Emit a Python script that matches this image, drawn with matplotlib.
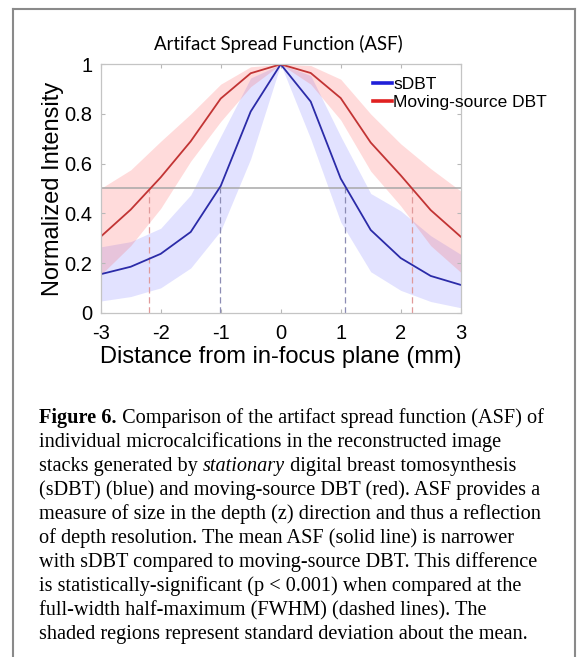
import numpy as np
import matplotlib
matplotlib.use("Agg")
import matplotlib.pyplot as plt
from matplotlib.lines import Line2D

# data
distance = [-3, -2.5, -2, -1.5, -1, -0.5, 0, 0.5, 1, 1.5, 2, 2.5, 3]

sdbt_mean = [0.155, 0.185, 0.237, 0.325, 0.51, 0.81, 1.0, 0.85, 0.54, 0.333, 0.22, 0.148, 0.112]
sdbt_upper = [0.265, 0.286, 0.34, 0.474, 0.71, 0.945, 1.0, 0.955, 0.71, 0.48, 0.41, 0.31, 0.235]
sdbt_lower = [0.047, 0.065, 0.10, 0.18, 0.33, 0.62, 1.0, 0.70, 0.365, 0.165, 0.09, 0.045, 0.02]

msdbt_mean = [0.306, 0.415, 0.545, 0.69, 0.862, 0.964, 1.0, 0.965, 0.864, 0.685, 0.553, 0.413, 0.306]
msdbt_upper = [0.50, 0.575, 0.69, 0.80, 0.92, 0.99, 1.0, 0.995, 0.94, 0.80, 0.68, 0.58, 0.49]
msdbt_lower = [0.152, 0.27, 0.42, 0.61, 0.77, 0.91, 1.0, 0.92, 0.776, 0.57, 0.43, 0.27, 0.163]

sdbt_fwhm = [-1.02, 1.07]
msdbt_fwhm = [-2.2, 2.18]
half_max = 0.5

xticks = [-3, -2, -1, 0, 1, 2, 3]
xtick_labels = ['-3', '-2', '-1', '0', '1', '2', '3']
yticks = [0, 0.2, 0.4, 0.6, 0.8, 1]
ytick_labels = ['0', '0.2', '0.4', '0.6', '0.8', '1']

caption = [
    [("Figure 6.", "bold"), (" Comparison of the artifact spread function (ASF) of", "normal")],
    [("individual microcalcifications in the reconstructed image", "normal")],
    [("stacks generated by ", "normal"), ("stationary", "italic"), (" digital breast tomosynthesis", "normal")],
    [("(sDBT) (blue) and moving-source DBT (red). ASF provides a", "normal")],
    [("measure of size in the depth (z) direction and thus a reflection", "normal")],
    [("of depth resolution. The mean ASF (solid line) is narrower", "normal")],
    [("with sDBT compared to moving-source DBT. This difference", "normal")],
    [("is statistically-significant (p < 0.001) when compared at the", "normal")],
    [("full-width half-maximum (FWHM) (dashed lines). The", "normal")],
    [("shaded regions represent standard deviation about the mean.", "normal")],
]

W, H = 581, 657
blue = '#2b2ba8'
red = '#c23434'

fig = plt.figure(figsize=(W / 100, H / 100), dpi=100)
ax = fig.add_axes([100.7 / W, 1 - 312.7 / H, 360 / W, 248.4 / H])

ax.fill_between(distance, sdbt_lower, sdbt_upper, color=(0.3, 0.3, 1.0), alpha=0.16, lw=0)
ax.fill_between(distance, msdbt_lower, msdbt_upper, color=(1.0, 0.3, 0.3), alpha=0.2, lw=0)

ax.axhline(half_max, color='#a8a8a8', lw=1.1, zorder=1)
for xv in sdbt_fwhm:
    ax.plot([xv, xv], [0, half_max], color='#8c8cb4', lw=0.9, ls=(0, (5, 3)))
for xv in msdbt_fwhm:
    ax.plot([xv, xv], [0, half_max], color='#e09a9a', lw=0.9, ls=(0, (5, 3)))

ax.plot(distance, sdbt_mean, color=blue, lw=1.3)
ax.plot(distance, msdbt_mean, color=red, lw=1.3)

ax.set_xlim(-3, 3)
ax.set_ylim(0, 1)
ax.set_xticks(xticks)
ax.set_xticklabels(xtick_labels)
ax.set_yticks(yticks)
ax.set_yticklabels(ytick_labels)
ax.tick_params(direction='in', top=True, right=True, length=3, width=0.8,
               color='#b8b8b8', labelsize=14.5, pad=6)
ax.tick_params(axis='x', pad=8)
for lab in ax.get_xticklabels() + ax.get_yticklabels():
    lab.set_fontfamily('Liberation Sans')
for sp in ax.spines.values():
    sp.set_color('#c4c4c4')
    sp.set_linewidth(0.9)

ax.set_xlabel('Distance from in-focus plane (mm)', fontsize=17, family='Liberation Sans', labelpad=2)
ax.set_ylabel('Normalized Intensity', fontsize=17, family='Liberation Sans', labelpad=0)

handles = [Line2D([], [], color='#2020d8', lw=2.6), Line2D([], [], color='#e02020', lw=2.6)]
ax.legend(handles, ['sDBT', 'Moving-source DBT'], loc='upper left', bbox_to_anchor=(0.755, 0.95),
          frameon=False, borderpad=0, borderaxespad=0, handlelength=1.1, handletextpad=0.1,
          labelspacing=0.2, prop={'family': 'Liberation Sans', 'size': 12.5})

fig.text(278 / W, 1 - 50 / H, 'Artifact Spread Function (ASF)', ha='center', va='baseline',
         fontsize=13.4, family='Lato')

# grey frame around the figure
frame = dict(color='#8a8a8a', lw=1.5, transform=fig.transFigure)
fig.add_artist(Line2D([12.7 / W, 12.7 / W], [0, 1 - 9.3 / H], **frame))
fig.add_artist(Line2D([575 / W, 575 / W], [0, 1 - 9.3 / H], **frame))
fig.add_artist(Line2D([12.7 / W, 575 / W], [1 - 9.3 / H, 1 - 9.3 / H], **frame))

# caption
renderer = fig.canvas.get_renderer()
cap_fs = 14.6
for i, parts in enumerate(caption):
    x = 39.3
    y = 423.3 + i * 24
    for s, style in parts:
        t = fig.text(x / W, 1 - y / H, s, ha='left', va='baseline', fontsize=cap_fs,
                     family='Liberation Serif',
                     fontweight='bold' if style == 'bold' else 'normal',
                     fontstyle='italic' if style == 'italic' else 'normal')
        x += t.get_window_extent(renderer).width

fig.savefig('out.png', dpi=100)
